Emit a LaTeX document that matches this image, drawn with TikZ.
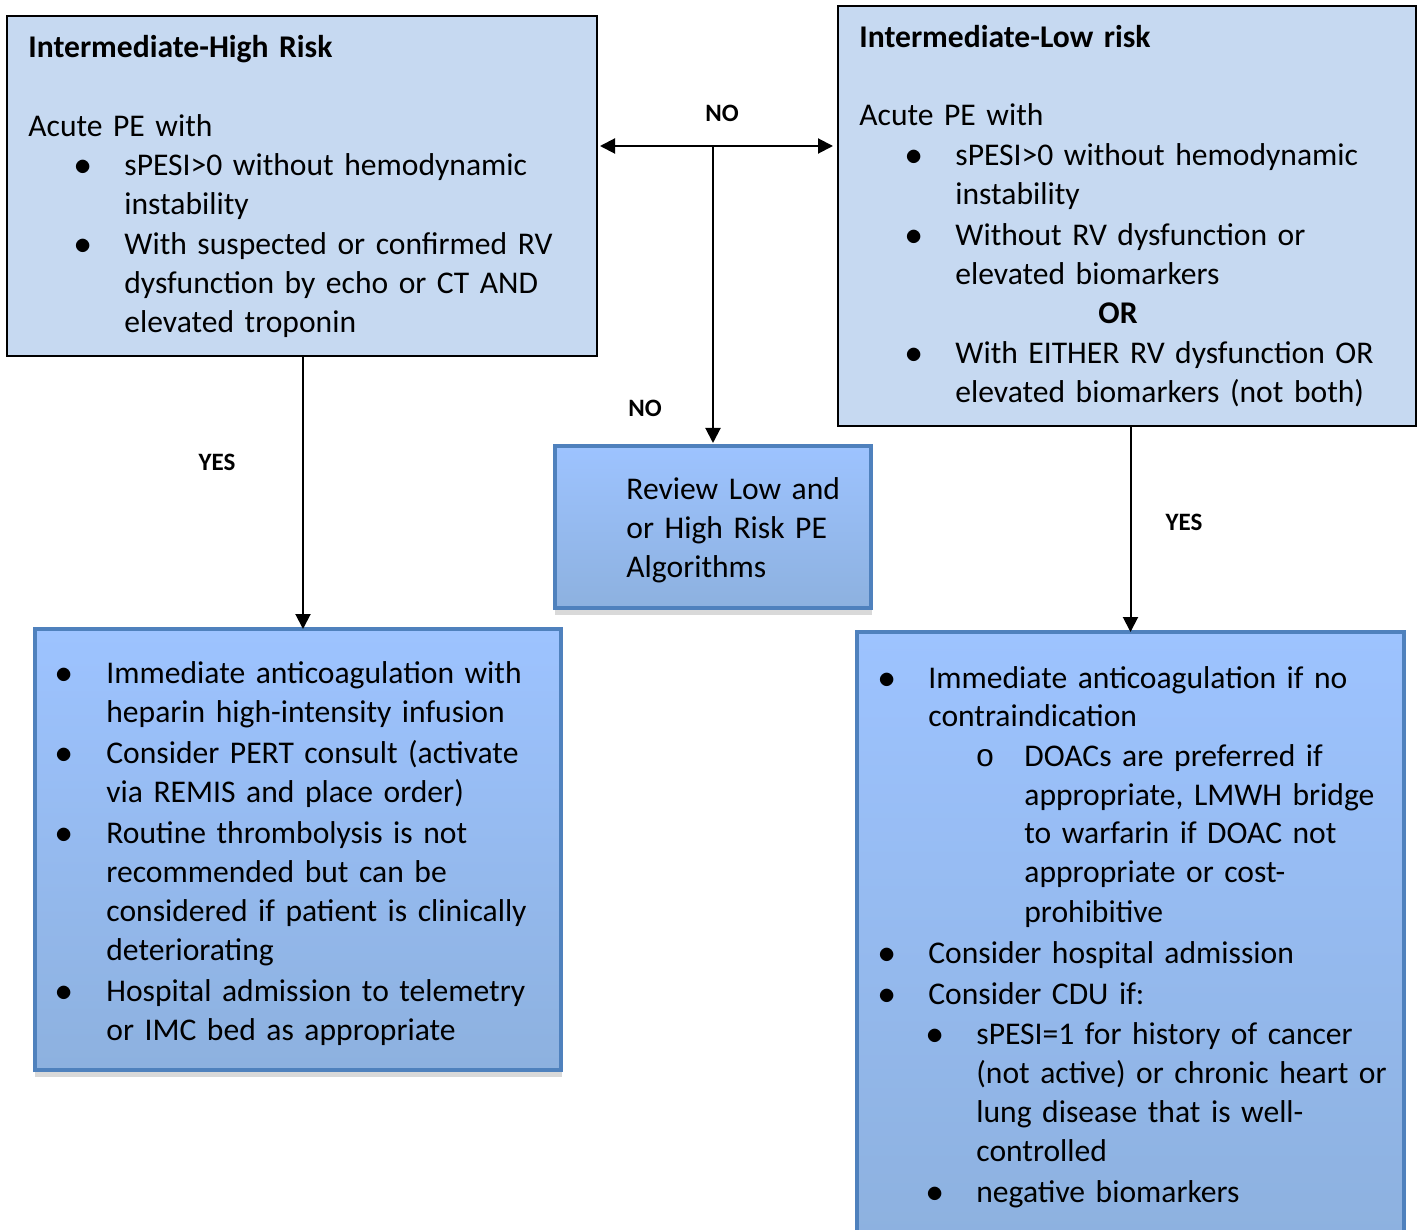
\documentclass[tikz,border=0pt]{standalone}
\usepackage{fontspec}
\setmainfont{Carlito}
\newfontfamily\courfont{Liberation Mono}
\usetikzlibrary{arrows.meta}

\definecolor{riskfill}{HTML}{C6D9F1}
\definecolor{plantop}{HTML}{9DC3FF}
\definecolor{planbot}{HTML}{8DB1DF}
\definecolor{planedge}{HTML}{4F81BD}
\definecolor{shadowgray}{HTML}{D9D9D9}

\tikzset{
  riskbox/.style={rectangle, draw=black, line width=1pt, fill=riskfill,
    anchor=north west, outer sep=0pt, inner sep=0pt},
  planbox/.style={rectangle, draw=planedge, line width=2pt, top color=plantop,
    bottom color=planbot, anchor=north west, outer sep=0pt, inner sep=0pt},
  txt/.style={anchor=base west, inner sep=0pt, align=left, text width=260pt,
    font=\fontsize{15.8}{19.5}\selectfont},
  head/.style={txt, font=\bfseries\fontsize{15.8}{19.5}\selectfont},
  dot/.style={anchor=base, inner sep=0pt, font=\fontsize{19}{19.5}\selectfont},
  answer/.style={inner sep=0pt, font=\bfseries\fontsize{12.5}{15}\selectfont},
  arr/.style={line width=1pt, -{Triangle[width=7.5pt,length=7.5pt]}}
}

\begin{document}
\begin{tikzpicture}[x=0.5pt, y=-0.5pt]
    \clip (0,0) rectangle (1421,1230);

    % Kaestchen oben
    \node[riskbox, minimum width=295pt, minimum height=170pt] (hi) at (7,16) {};
    \node[riskbox, minimum width=289pt, minimum height=210pt] (lo) at (838,6) {};

    % Kaestchen unten, mit Schatten
    \fill[shadowgray] (555,610) rectangle (872,615);
    \fill[shadowgray] (35,1072) rectangle (562,1077);
    \node[planbox, minimum width=158pt, minimum height=81pt] (rev) at (555,446) {};
    \node[planbox, minimum width=263pt, minimum height=220.5pt] (act) at (35,629) {};
    \node[planbox, minimum width=273.5pt, minimum height=304pt] (cdu) at (857,632) {};

    % Intermediate-High
    \node[head] (hititle) at (28,58) {Intermediate-High Risk};
    \node[txt] (hiacute) at (28,137) {Acute PE with};
    \node[dot] (hidot1) at (83,176) {$\bullet$};
    \node[txt] (hiitem1) at (124,176) {sPESI>0 without hemodynamic\\instability};
    \node[dot] (hidot2) at (83,255) {$\bullet$};
    \node[txt] (hiitem2) at (124,255) {With suspected or confirmed RV\\dysfunction by echo or CT AND\\elevated troponin};

    % Intermediate-Low
    \node[head] (lotitle) at (859,48) {Intermediate-Low risk};
    \node[txt] (loacute) at (859,126) {Acute PE with};
    \node[dot] (lodot1) at (914,166) {$\bullet$};
    \node[txt] (loitem1) at (955,166) {sPESI>0 without hemodynamic\\instability};
    \node[dot] (lodot2) at (914,246) {$\bullet$};
    \node[txt] (loitem2) at (955,246) {Without RV dysfunction or\\elevated biomarkers};
    \node[dot, font=\bfseries\fontsize{15.8}{19.5}\selectfont] (loor) at (1118,324) {OR};
    \node[dot] (lodot3) at (914,364) {$\bullet$};
    \node[txt] (loitem3) at (955,364) {With EITHER RV dysfunction OR\\elevated biomarkers (not both)};

    % Review
    \node[txt] (revtext) at (626,500) {Review Low and\\or High Risk PE\\Algorithms};

    % Massnahmen links
    \node[dot] (actdot1) at (64,683) {$\bullet$};
    \node[txt] (actitem1) at (106,683) {Immediate anticoagulation with\\heparin high-intensity infusion};
    \node[dot] (actdot2) at (64,763) {$\bullet$};
    \node[txt] (actitem2) at (106,763) {Consider PERT consult (activate\\via REMIS and place order)};
    \node[dot] (actdot3) at (64,843) {$\bullet$};
    \node[txt] (actitem3) at (106,843) {Routine thrombolysis is not\\recommended but can be\\considered if patient is clinically\\deteriorating};
    \node[dot] (actdot4) at (64,1001) {$\bullet$};
    \node[txt] (actitem4) at (106,1001) {Hospital admission to telemetry\\or IMC bed as appropriate};

    % Massnahmen rechts
    \node[dot] (cdudot1) at (887,688) {$\bullet$};
    \node[txt] (cduitem1) at (928,688) {Immediate anticoagulation if no\\contraindication};
    \node[dot, font=\courfont\fontsize{15.8}{19.5}\selectfont] (cducirc) at (985,766) {o};
    \node[txt] (cdusub) at (1024,766) {DOACs are preferred if\\appropriate, LMWH bridge\\to warfarin if DOAC not\\appropriate or cost-\\prohibitive};
    \node[dot] (cdudot2) at (887,963) {$\bullet$};
    \node[txt] (cduitem2) at (928,963) {Consider hospital admission};
    \node[dot] (cdudot3) at (887,1004) {$\bullet$};
    \node[txt] (cduitem3) at (928,1004) {Consider CDU if:};
    \node[dot] (cdudot4) at (935,1044) {$\bullet$};
    \node[txt] (cduitem4) at (976,1044) {sPESI=1 for history of cancer\\(not active) or chronic heart or\\lung disease that is well-\\controlled};
    \node[dot] (cdudot5) at (935,1202) {$\bullet$};
    \node[txt] (cduitem5) at (976,1202) {negative biomarkers};

    % Pfeile
    \coordinate (split) at (713,146);
    \draw[arr, shorten >=1.5pt] (split) -- (split -| hi.east);
    \draw[arr, shorten >=2.5pt] (split) -- (split -| lo.west);
    \draw[arr, shorten >=1.5pt] (split) -- (split |- rev.north);
    \draw[arr] (hi.south -| 303,0) -- (act.north -| 303,0);
    \draw[arr] (cdu.north |- lo.south) -- (cdu.north);

    % Beschriftungen
    \node[answer] (nohoriz) at (722,113) {NO};
    \node[answer] (novert) at (645,408) {NO};
    \node[answer] (yesleft) at (217,462) {YES};
    \node[answer] (yesright) at (1184,522) {YES};
\end{tikzpicture}
\end{document}
